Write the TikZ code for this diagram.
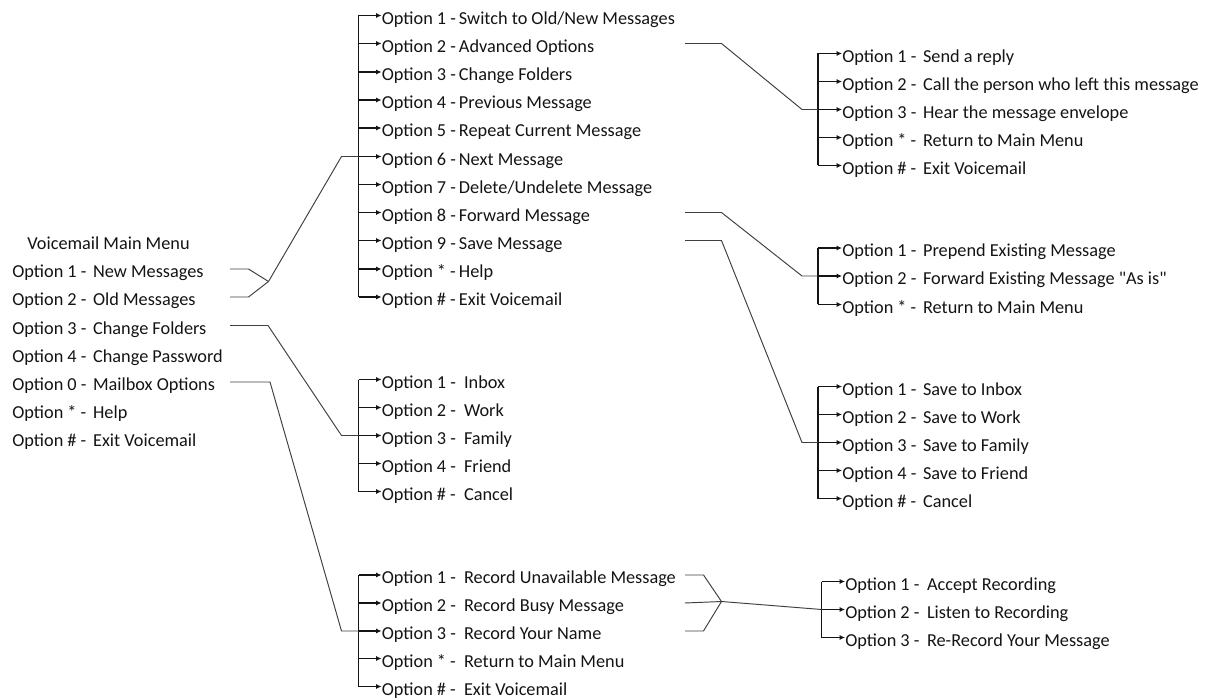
\documentclass[tikz,border=0pt]{standalone}
\usepackage{fontspec}
\newfontfamily\menufont{Carlito}
\usepackage{tikz}
\usetikzlibrary{arrows.meta}
\usepackage{xcolor}
\definecolor{menutext}{RGB}{20,20,20}
\definecolor{menuline}{RGB}{20,20,20}
\newcommand{\opt}[3][4.42em]{\makebox[#1][l]{Option #2 -}#3}

\begin{document}
\begin{tikzpicture}[
    menuitem/.style={anchor=west, inner sep=0pt, text height=10pt, text depth=0pt,
                     font=\menufont\fontsize{10.4}{12}\selectfont, text=menutext},
    arw/.style={-{Latex[length=3pt,width=2.8pt]}, line width=0.6pt, menuline},
    bracketline/.style={line width=0.6pt, menuline},
    link/.style={line width=0.55pt, black!75}
]
\useasboundingbox (0,0) rectangle (24.32,13.96);

% Main menu
\node[menuitem] (mtitle) at (0.54, 9.14) {Voicemail Main Menu};
\node[menuitem] (m1) at (0.24, 8.58) {\opt{1}{New Messages}};
\node[menuitem] (m2) at (0.24, 8.02) {\opt{2}{Old Messages}};
\node[menuitem] (m3) at (0.24, 7.45) {\opt{3}{Change Folders}};
\node[menuitem] (m4) at (0.24, 6.89) {\opt{4}{Change Password}};
\node[menuitem] (m0) at (0.24, 6.32) {\opt{0}{Mailbox Options}};
\node[menuitem] (ms) at (0.24, 5.76) {\opt{*}{Help}};
\node[menuitem] (mh) at (0.24, 5.20) {\opt{\#}{Exit Voicemail}};

% Message options
\node[menuitem] (msg1) at (7.63, 13.65) {\opt[4.22em]{1}{Switch to Old/New Messages}};
\node[menuitem] (msg2) at (7.63, 13.09) {\opt[4.22em]{2}{Advanced Options}};
\node[menuitem] (msg3) at (7.63, 12.52) {\opt[4.22em]{3}{Change Folders}};
\node[menuitem] (msg4) at (7.63, 11.96) {\opt[4.22em]{4}{Previous Message}};
\node[menuitem] (msg5) at (7.63, 11.40) {\opt[4.22em]{5}{Repeat Current Message}};
\node[menuitem] (msg6) at (7.63, 10.83) {\opt[4.22em]{6}{Next Message}};
\node[menuitem] (msg7) at (7.63, 10.27) {\opt[4.22em]{7}{Delete/Undelete Message}};
\node[menuitem] (msg8) at (7.63, 9.71) {\opt[4.22em]{8}{Forward Message}};
\node[menuitem] (msg9) at (7.63, 9.15) {\opt[4.22em]{9}{Save Message}};
\node[menuitem] (msg10) at (7.63, 8.58) {\opt[4.22em]{*}{Help}};
\node[menuitem] (msg11) at (7.63, 8.02) {\opt[4.22em]{\#}{Exit Voicemail}};

% Advanced options
\node[menuitem] (adv1) at (16.84, 12.89) {\opt{1}{Send a reply}};
\node[menuitem] (adv2) at (16.84, 12.33) {\opt{2}{Call the person who left this message}};
\node[menuitem] (adv3) at (16.84, 11.77) {\opt{3}{Hear the message envelope}};
\node[menuitem] (adv4) at (16.84, 11.21) {\opt{*}{Return to Main Menu}};
\node[menuitem] (adv5) at (16.84, 10.65) {\opt{\#}{Exit Voicemail}};

% Forward options
\node[menuitem] (fwd1) at (16.84, 9.00) {\opt{1}{Prepend Existing Message}};
\node[menuitem] (fwd2) at (16.84, 8.44) {\opt{2}{Forward Existing Message "As is"}};
\node[menuitem] (fwd3) at (16.84, 7.87) {\opt{*}{Return to Main Menu}};

% Save options
\node[menuitem] (sav1) at (16.84, 6.23) {\opt{1}{Save to Inbox}};
\node[menuitem] (sav2) at (16.84, 5.67) {\opt{2}{Save to Work}};
\node[menuitem] (sav3) at (16.84, 5.11) {\opt{3}{Save to Family}};
\node[menuitem] (sav4) at (16.84, 4.55) {\opt{4}{Save to Friend}};
\node[menuitem] (sav5) at (16.84, 3.99) {\opt{\#}{Cancel}};

% Folders
\node[menuitem] (fld1) at (7.63, 6.37) {\opt[4.5em]{1}{Inbox}};
\node[menuitem] (fld2) at (7.63, 5.81) {\opt[4.5em]{2}{Work}};
\node[menuitem] (fld3) at (7.63, 5.25) {\opt[4.5em]{3}{Family}};
\node[menuitem] (fld4) at (7.63, 4.69) {\opt[4.5em]{4}{Friend}};
\node[menuitem] (fld5) at (7.63, 4.13) {\opt[4.5em]{\#}{Cancel}};

% Mailbox options
\node[menuitem] (box1) at (7.63, 2.46) {\opt[4.5em]{1}{Record Unavailable Message}};
\node[menuitem] (box2) at (7.63, 1.90) {\opt[4.5em]{2}{Record Busy Message}};
\node[menuitem] (box3) at (7.63, 1.34) {\opt[4.5em]{3}{Record Your Name}};
\node[menuitem] (box4) at (7.63, 0.79) {\opt[4.5em]{*}{Return to Main Menu}};
\node[menuitem] (box5) at (7.63, 0.23) {\opt[4.5em]{\#}{Exit Voicemail}};

% Recording options
\node[menuitem] (rec1) at (16.90, 2.33) {\opt[4.47em]{1}{Accept Recording}};
\node[menuitem] (rec2) at (16.90, 1.77) {\opt[4.47em]{2}{Listen to Recording}};
\node[menuitem] (rec3) at (16.90, 1.21) {\opt[4.47em]{3}{Re-Record Your Message}};

% Bracket and knee x positions, junctions
\coordinate (mx) at (4.60, 0);
\coordinate (kl) at (6.83, 0);
\coordinate (bl) at (7.17, 0);
\coordinate (sx) at (13.70, 0);
\coordinate (kr) at (16.04, 0);
\coordinate (br) at (16.36, 0);
\coordinate (bg) at (16.43, 0);
\coordinate (j1) at (5.37, 8.33);
\coordinate (j2) at (14.43, 1.93);

% Brackets
\draw[bracketline] (bl |- msg1.west) -- (bl |- msg11.west);
\draw[arw] (bl |- msg1.west) -- (msg1.west);
\draw[arw] (bl |- msg2.west) -- (msg2.west);
\draw[arw] (bl |- msg3.west) -- (msg3.west);
\draw[arw] (bl |- msg4.west) -- (msg4.west);
\draw[arw] (bl |- msg5.west) -- (msg5.west);
\draw[arw] (bl |- msg6.west) -- (msg6.west);
\draw[arw] (bl |- msg7.west) -- (msg7.west);
\draw[arw] (bl |- msg8.west) -- (msg8.west);
\draw[arw] (bl |- msg9.west) -- (msg9.west);
\draw[arw] (bl |- msg10.west) -- (msg10.west);
\draw[arw] (bl |- msg11.west) -- (msg11.west);

\draw[bracketline] (br |- adv1.west) -- (br |- adv5.west);
\draw[arw] (br |- adv1.west) -- (adv1.west);
\draw[arw] (br |- adv2.west) -- (adv2.west);
\draw[arw] (br |- adv3.west) -- (adv3.west);
\draw[arw] (br |- adv4.west) -- (adv4.west);
\draw[arw] (br |- adv5.west) -- (adv5.west);

\draw[bracketline] (br |- fwd1.west) -- (br |- fwd3.west);
\draw[arw] (br |- fwd1.west) -- (fwd1.west);
\draw[arw] (br |- fwd2.west) -- (fwd2.west);
\draw[arw] (br |- fwd3.west) -- (fwd3.west);

\draw[bracketline] (br |- sav1.west) -- (br |- sav5.west);
\draw[arw] (br |- sav1.west) -- (sav1.west);
\draw[arw] (br |- sav2.west) -- (sav2.west);
\draw[arw] (br |- sav3.west) -- (sav3.west);
\draw[arw] (br |- sav4.west) -- (sav4.west);
\draw[arw] (br |- sav5.west) -- (sav5.west);

\draw[bracketline] (bl |- fld1.west) -- (bl |- fld5.west);
\draw[arw] (bl |- fld1.west) -- (fld1.west);
\draw[arw] (bl |- fld2.west) -- (fld2.west);
\draw[arw] (bl |- fld3.west) -- (fld3.west);
\draw[arw] (bl |- fld4.west) -- (fld4.west);
\draw[arw] (bl |- fld5.west) -- (fld5.west);

\draw[bracketline] (bl |- box1.west) -- (bl |- box5.west);
\draw[arw] (bl |- box1.west) -- (box1.west);
\draw[arw] (bl |- box2.west) -- (box2.west);
\draw[arw] (bl |- box3.west) -- (box3.west);
\draw[arw] (bl |- box4.west) -- (box4.west);
\draw[arw] (bl |- box5.west) -- (box5.west);

\draw[bracketline] (bg |- rec1.west) -- (bg |- rec3.west);
\draw[arw] (bg |- rec1.west) -- (rec1.west);
\draw[arw] (bg |- rec2.west) -- (rec2.west);
\draw[arw] (bg |- rec3.west) -- (rec3.west);

% Links between menus
\draw[link] (mx |- m1.west) -- ++(0.37,0) -- (j1);
\draw[link] (mx |- m2.west) -- ++(0.37,0) -- (j1);
\draw[link] (j1) -- (kl |- msg6.west) -- (bl |- msg6.west);
\draw[link] (mx |- m3.west) -- ++(0.76,0) -- (kl |- fld3.west) -- (bl |- fld3.west);
\draw[link] (mx |- m0.west) -- ++(0.80,0) -- (kl |- box3.west) -- (bl |- box3.west);
\draw[link] (sx |- msg2.west) -- ++(0.73,0) -- (kr |- adv3.west) -- (br |- adv3.west);
\draw[link] (sx |- msg8.west) -- ++(0.73,0) -- (kr |- fwd2.west) -- (br |- fwd2.west);
\draw[link] (sx |- msg9.west) -- ++(0.73,0) -- (kr |- sav3.west) -- (br |- sav3.west);
\draw[link] (sx |- box1.west) -- ++(0.37,0) -- (j2);
\draw[link] (sx |- box2.west) -- (j2);
\draw[link] (sx |- box3.west) -- ++(0.37,0) -- (j2);
\draw[link] (j2) -- (bg |- rec2.west);
\end{tikzpicture}
\end{document}
